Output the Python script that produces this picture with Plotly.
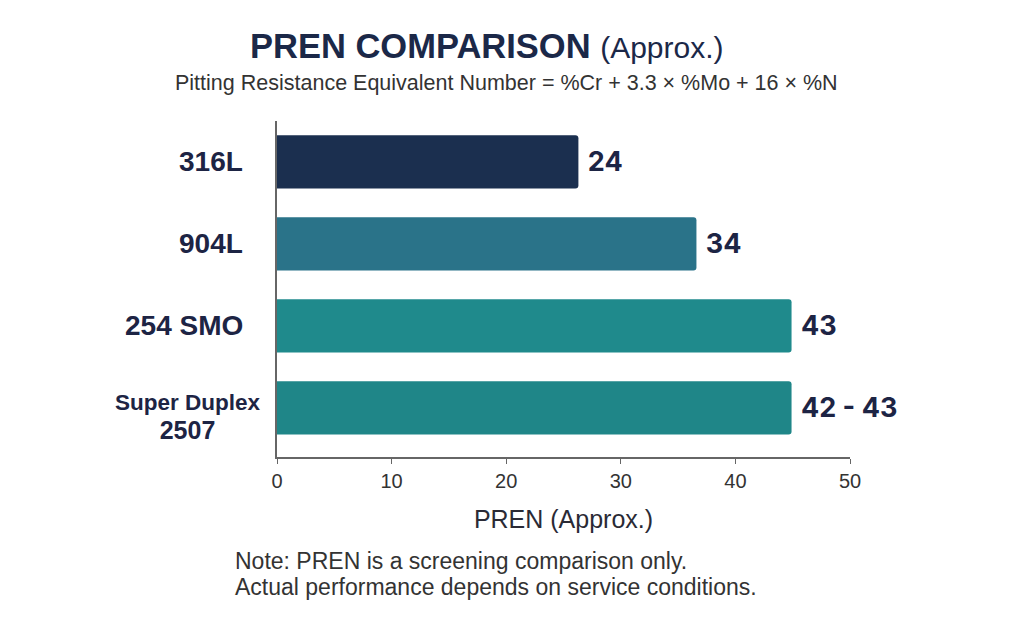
import plotly.graph_objects as go

categories = ["316L", "904L", "254 SMO", "Super Duplex 2507"]
category_labels = ["316L", "904L", "254 SMO",
                   "Super Duplex<br><span style='font-size:25px'>2507</span>"]
bar_values = [26.3, 36.6, 44.9, 44.9]
value_labels = ["24", "34", "43", "42 - 43"]
bar_colors = ["#1b2f4f", "#2a7389", "#1f8a8c", "#1f8688"]
x_ticks = [0, 10, 20, 30, 40, 50]
note_lines = ["Note: PREN is a screening comparison only.",
              "Actual performance depends on service conditions."]

navy = "#1d2444"
grey = "#333333"

W, H = 1024, 623
L, R, T, B = 277, 174, 121, 166
pw = W - L - R
ph = H - T - B


def px_x(x):
    return (x - L) / pw


def px_y(y):
    return (H - B - y) / ph


fig = go.Figure()
fig.add_trace(go.Bar(
    y=categories,
    x=bar_values,
    orientation="h",
    marker=dict(color=bar_colors, line=dict(width=0)),
    width=0.65,
    text=[" " + t for t in value_labels],
    textposition="outside",
    textfont=dict(family="Inter, Lato, sans-serif", size=27, color=navy, weight="bold"),
    cliponaxis=False,
    hoverinfo="skip",
))

annotations = []
for cat, lab in zip(categories, category_labels):
    multi = "<br>" in lab
    annotations.append(dict(
        text=lab, x=0, xref="paper", y=cat, yref="y",
        xanchor="right", yanchor="middle", align="center",
        xshift=-14 if multi else -32, yshift=-9 if multi else 0, showarrow=False,
        font=dict(family="Liberation Sans, Arial, sans-serif",
                  size=22.5 if multi else 28,
                  color=navy, weight="bold"),
    ))

annotations += [
    dict(text="<b>PREN COMPARISON</b> <span style='font-size:30px'>(Approx.)</span>",
         x=px_x(487), y=px_y(46), xref="paper", yref="paper", showarrow=False,
         xanchor="center", yanchor="middle",
         font=dict(size=34.5, color="#1b2848", family="Liberation Sans, Arial, sans-serif")),
    dict(text="Pitting Resistance Equivalent Number = %Cr + 3.3 × %Mo + 16 × %N",
         x=px_x(506), y=px_y(83), xref="paper", yref="paper", showarrow=False,
         xanchor="center", yanchor="middle",
         font=dict(size=21.5, color=grey)),
]
for line, ypx in zip(note_lines, [561, 587]):
    annotations.append(dict(
        text=line, x=px_x(233), y=px_y(ypx), xref="paper", yref="paper",
        showarrow=False, xanchor="left", yanchor="middle", align="left",
        font=dict(size=23, color=grey)))

fig.update_layout(
    width=W,
    height=H,
    margin=dict(l=L, r=R, t=T, b=B),
    paper_bgcolor="white",
    plot_bgcolor="white",
    showlegend=False,
    barcornerradius=3,
    font=dict(family="Liberation Sans, Arial, sans-serif", color=grey),
    xaxis=dict(
        range=[0, 50],
        tickvals=x_ticks,
        showgrid=False,
        zeroline=False,
        showline=True,
        linecolor="#666666",
        linewidth=1.5,
        ticks="outside",
        ticklen=5,
        tickcolor="#666666",
        tickfont=dict(size=20, color=grey),
        title=dict(text="PREN (Approx.)", font=dict(size=25, color="#2a2a35"), standoff=20),
    ),
    yaxis=dict(
        type="category",
        categoryorder="array",
        categoryarray=categories,
        range=[3.6, -0.5],
        showgrid=False,
        zeroline=False,
        showline=True,
        linecolor="#666666",
        linewidth=1.5,
        ticks="",
        showticklabels=False,
    ),
    annotations=annotations,
)

fig.write_html("out.html")
